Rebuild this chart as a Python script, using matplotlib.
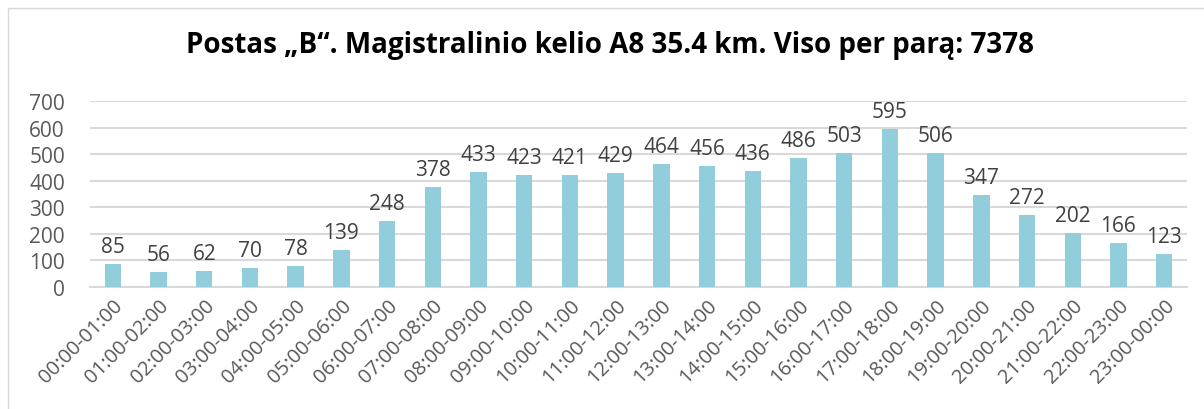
import matplotlib
matplotlib.use("Agg")
import matplotlib.pyplot as plt
from matplotlib.patches import Rectangle

categories = ["00:00-01:00", "01:00-02:00", "02:00-03:00", "03:00-04:00", "04:00-05:00",
              "05:00-06:00", "06:00-07:00", "07:00-08:00", "08:00-09:00", "09:00-10:00",
              "10:00-11:00", "11:00-12:00", "12:00-13:00", "13:00-14:00", "14:00-15:00",
              "15:00-16:00", "16:00-17:00", "17:00-18:00", "18:00-19:00", "19:00-20:00",
              "20:00-21:00", "21:00-22:00", "22:00-23:00", "23:00-00:00"]
values = [85, 56, 62, 70, 78, 139, 248, 378, 433, 423, 421, 429, 464, 456, 436,
          486, 503, 595, 506, 347, 272, 202, 166, 123]
yticks = [0, 100, 200, 300, 400, 500, 600, 700]
title = "Postas \u201eB\u201c. Magistralinio kelio A8 35.4 km. Viso per par\u0105: 7378"

plt.rcParams['font.family'] = ['Open Sans', 'DejaVu Sans']
fig = plt.figure(figsize=(12.04, 4.10), dpi=100)
fig.patches.append(Rectangle((8/1204, -0.1), 1.2, 1 - 9/410 + 0.1, transform=fig.transFigure,
                             fill=False, edgecolor='#D9D9D9', linewidth=1.0))
ax = fig.add_axes([90/1204, 1 - 288/410, (1187 - 90)/1204, (288 - 102)/410])

x = list(range(len(categories)))
bars = ax.bar(x, values, width=0.36, color='#92CDDC', zorder=3)
for xi, v in zip(x, values):
    ax.annotate(str(v), (xi, v), xytext=(0, 5), textcoords='offset points',
                ha='center', va='bottom', fontsize=15, color='#404040')

ax.set_xlim(-0.5, len(categories) - 0.5)
ax.set_ylim(0, 700)
ax.set_yticks(yticks)
ax.set_yticklabels([str(t) for t in yticks], fontsize=15, color='#595959')
ax.set_xticks(x)
ax.set_xticklabels(categories, rotation=45, ha='right', rotation_mode='anchor',
                   fontsize=14.5, color='#595959')
ax.tick_params(axis='both', length=0)
ax.tick_params(axis='y', pad=18)
ax.tick_params(axis='x', pad=6)
ax.grid(axis='y', color='#D9D9D9', linewidth=1.5, zorder=0)
for s in ['top', 'right', 'left']:
    ax.spines[s].set_visible(False)
ax.spines['bottom'].set_color('#D9D9D9')
ax.spines['bottom'].set_linewidth(1.5)

fig.text(0.507, 1 - 45/410, title, ha='center', va='center', fontsize=20,
         fontweight='bold', color='#000000')

fig.savefig("out.png", dpi=100)
